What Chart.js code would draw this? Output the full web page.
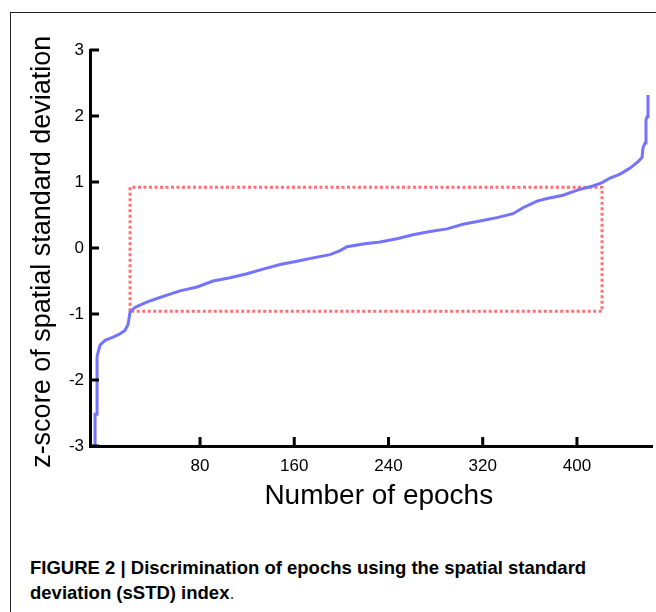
<!DOCTYPE html>
<html><head><meta charset="utf-8">
<script src="https://cdn.jsdelivr.net/npm/chart.js@4.4.1/dist/chart.umd.min.js"></script>
<style>
html,body{margin:0;padding:0;background:#fff;}
body{width:656px;height:612px;position:relative;overflow:hidden;}
#frame{position:absolute;left:10px;top:12px;width:700px;height:700px;border-left:1.5px solid #222;border-top:1.5px solid #222;}
#c{position:absolute;left:0;top:0;}
#cap{position:absolute;left:30px;top:555px;font-family:"Liberation Sans Narrow","Arial Narrow","Liberation Sans",sans-serif;font-weight:bold;font-size:18.5px;line-height:25px;color:#000;white-space:nowrap;}
#cap .dot{font-weight:normal;color:#444;}
</style></head>
<body>
<div id="frame"></div>
<canvas id="c" width="656" height="520"></canvas>
<div id="cap">FIGURE 2 | Discrimination of epochs using the spatial standard<br>deviation (sSTD) index<span class="dot">.</span></div>
<script>
// Sorted epoch position (x, as placed against the printed tick labels) and z-score of spatial standard deviation (y)
const epochIdx = [-9.1, -9.1, -7.4, -7.4, -4.9, -0.6, 6.2, 12.1, 16.3, 18.9, 20.6, 24.8, 30.8, 37.6, 46.0, 54.5, 63.0, 77.5, 91.0, 105.5, 119.9, 133.5, 148.0, 162.3, 175.9, 190.4, 198.9, 204.8, 218.4, 232.8, 247.2, 260.8, 275.2, 289.7, 303.2, 317.7, 332.1, 345.7, 354.2, 366.1, 374.6, 388.2, 400.9, 413.6, 421.3, 428.1, 436.6, 445.1, 451.9, 455.2, 456.1, 457.8, 458.6, 459.5, 460.3];
const zScore   = [-3.0, -2.52, -2.52, -1.64, -1.47, -1.40, -1.35, -1.30, -1.25, -1.16, -0.97, -0.90, -0.85, -0.80, -0.75, -0.70, -0.65, -0.59, -0.50, -0.45, -0.39, -0.32, -0.25, -0.20, -0.15, -0.10, -0.04, 0.02, 0.06, 0.09, 0.14, 0.20, 0.25, 0.29, 0.36, 0.41, 0.46, 0.52, 0.61, 0.71, 0.75, 0.80, 0.88, 0.94, 0.99, 1.06, 1.12, 1.21, 1.31, 1.37, 1.52, 1.59, 1.94, 1.99, 2.32];
// Selection box (dotted rectangle)
const boxEpochs = [20.6, 421.3];
const boxZ = [-0.96, 0.92];
// Tick labels
const xTicks = [80, 160, 240, 320, 400];
const yTicks = [-3, -2, -1, 0, 1, 2, 3];
const xRange = [-13.4, 463.7];
const yRange = [-3, 3];

const curve = epochIdx.map((e, i) => ({x: e, y: zScore[i]}));
const box = [
  {x: boxEpochs[0], y: boxZ[0]}, {x: boxEpochs[0], y: boxZ[1]},
  {x: boxEpochs[1], y: boxZ[1]}, {x: boxEpochs[1], y: boxZ[0]},
  {x: boxEpochs[0], y: boxZ[0]}
];

const inwardTicks = {
  id: 'inwardTicks',
  afterDraw(chart) {
    const {ctx, chartArea, scales} = chart;
    ctx.save();
    ctx.strokeStyle = '#000';
    ctx.lineWidth = 3;
    ctx.beginPath();
    yTicks.forEach(v => {
      const y = scales.y.getPixelForValue(v);
      ctx.moveTo(chartArea.left, y);
      ctx.lineTo(chartArea.left + 9, y);
    });
    xTicks.forEach(v => {
      const x = scales.x.getPixelForValue(v);
      ctx.moveTo(x, chartArea.bottom);
      ctx.lineTo(x, chartArea.bottom - 9);
    });
    ctx.stroke();
    ctx.restore();
  }
};

const FONT = '"Liberation Sans", Arial, sans-serif';

new Chart(document.getElementById('c'), {
  type: 'line',
  data: {
    datasets: [
      {data: box, borderColor: 'rgb(255,112,112)', borderWidth: 3, borderDash: [3, 2.5], pointRadius: 0, tension: 0, fill: false, order: 2},
      {data: curve, borderColor: 'rgb(115,115,255)', borderWidth: 3, pointRadius: 0, tension: 0, fill: false, order: 1}
    ]
  },
  options: {
    responsive: false,
    animation: false,
    devicePixelRatio: 1,
    layout: {padding: {left: 10, top: 50, right: 4, bottom: 0}},
    plugins: {legend: {display: false}, tooltip: {enabled: false}},
    scales: {
      x: {
        type: 'linear', min: xRange[0], max: xRange[1],
        grid: {display: false, drawTicks: false},
        border: {display: true, color: '#000', width: 3},
        afterBuildTicks: s => { s.ticks = xTicks.map(v => ({value: v})); },
        afterFit: s => { s.height = 74; s.paddingLeft = 0; s.paddingRight = 0; },
        ticks: {color: '#000', font: {family: FONT, size: 17}, padding: 10, maxRotation: 0},
        title: {display: true, text: '  Number of epochs', color: '#000', font: {family: FONT, size: 28}, padding: {top: 0, bottom: 7}}
      },
      y: {
        type: 'linear', min: yRange[0], max: yRange[1],
        grid: {display: false, drawTicks: false},
        border: {display: true, color: '#000', width: 3},
        afterBuildTicks: s => { s.ticks = yTicks.map(v => ({value: v})); },
        afterFit: s => { s.width = 80; s.paddingTop = 0; s.paddingBottom = 0; },
        ticks: {color: '#000', font: {family: FONT, size: 17}, padding: 6},
        title: {display: true, text: 'z-score of spatial standard deviation ', color: '#000', font: {family: FONT, size: 27}, padding: {top: 16, bottom: 0}}
      }
    }
  },
  plugins: [inwardTicks]
});
</script>
</body></html>
